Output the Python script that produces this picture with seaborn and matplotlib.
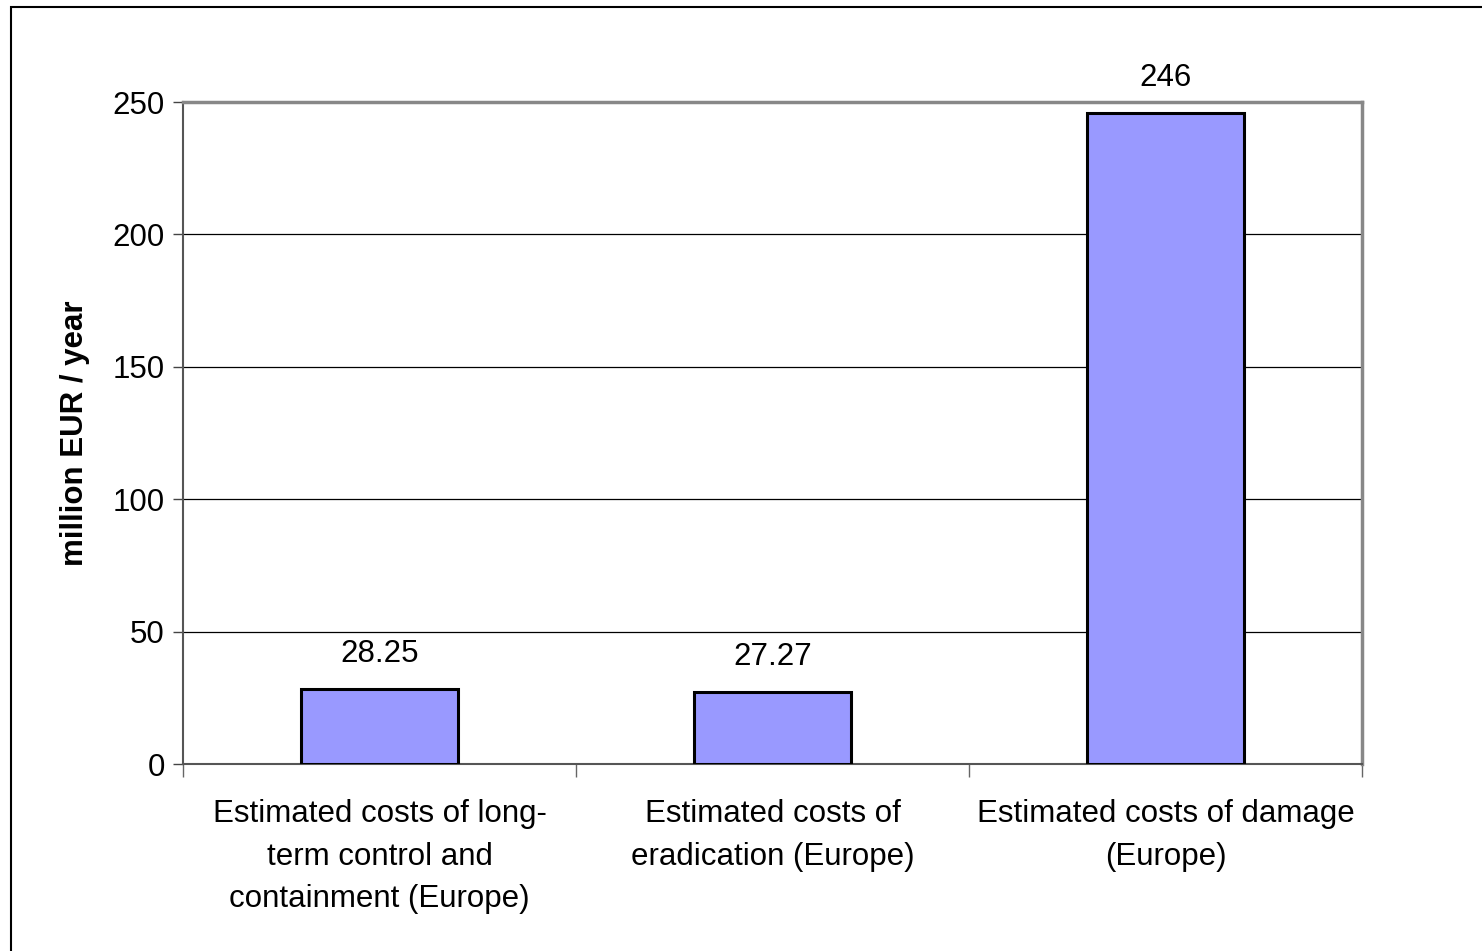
import matplotlib
matplotlib.use('Agg')
import matplotlib.pyplot as plt
from matplotlib.patches import Rectangle
import seaborn as sns
import pandas as pd

# chart values
categories = ['Estimated costs of long-\nterm control and\ncontainment (Europe)',
              'Estimated costs of\neradication (Europe)',
              'Estimated costs of damage\n(Europe)']
costs = [28.25, 27.27, 246]
value_labels = ['28.25', '27.27', '246']
y_ticks = [0, 50, 100, 150, 200, 250]

sns.set_style('white')
plt.rcParams['font.family'] = ['Liberation Sans', 'DejaVu Sans']
plt.rcParams['text.color'] = 'black'
plt.rcParams['xtick.color'] = 'black'
plt.rcParams['ytick.color'] = 'black'
plt.rcParams['axes.labelcolor'] = 'black'

df = pd.DataFrame({'category': categories, 'cost': costs})

fig = plt.figure(figsize=(14.82, 9.51), dpi=100)
ax = fig.add_axes([183 / 1482, 1 - 764 / 951, (1362 - 183) / 1482, (764 - 102) / 951])

sns.barplot(data=df, x='category', y='cost', color='#9999FF', saturation=1,
            edgecolor='black', linewidth=2.2, width=0.4, ax=ax, zorder=3)

# value labels above bars
for i, (v, lab) in enumerate(zip(costs, value_labels)):
    ax.annotate(lab, (i, v), xytext=(0, 25), textcoords='offset points',
                ha='center', va='center', fontsize=22.5)

ax.set_ylim(0, 250)
ax.set_xlim(-0.5, 2.5)
ax.set_yticks(y_ticks)
ax.yaxis.grid(True, color='black', linewidth=0.9, zorder=0)
ax.set_axisbelow(True)

ax.tick_params(axis='y', labelsize=22.5, length=7, width=1, color='#444444',
               left=True, pad=6)
ax.tick_params(axis='x', which='major', length=0, labelsize=22.5, pad=25, labelcolor='black')
ax.set_xticks([-0.5, 0.5, 1.5, 2.5], minor=True)
ax.tick_params(axis='x', which='minor', length=9, width=1, color='#666666', bottom=True)

ax.set_xlabel('')
ax.set_ylabel('million EUR / year', fontsize=22.5, fontweight='bold', labelpad=16)
for t in ax.get_xticklabels():
    t.set_linespacing(1.56)

for side in ['left', 'bottom']:
    ax.spines[side].set_color('#555555')
    ax.spines[side].set_linewidth(1.5)
for side in ['top', 'right']:
    ax.spines[side].set_color('#888888')
    ax.spines[side].set_linewidth(2.5)

# outer frame of the picture, only its left and top edges fall inside
fig.patches.append(Rectangle((11 / 1482, -0.5), 3, 1.5 - 7 / 951, fill=False,
                             edgecolor='black', linewidth=1.5,
                             transform=fig.transFigure, figure=fig))

fig.savefig('out.png', dpi=100)
